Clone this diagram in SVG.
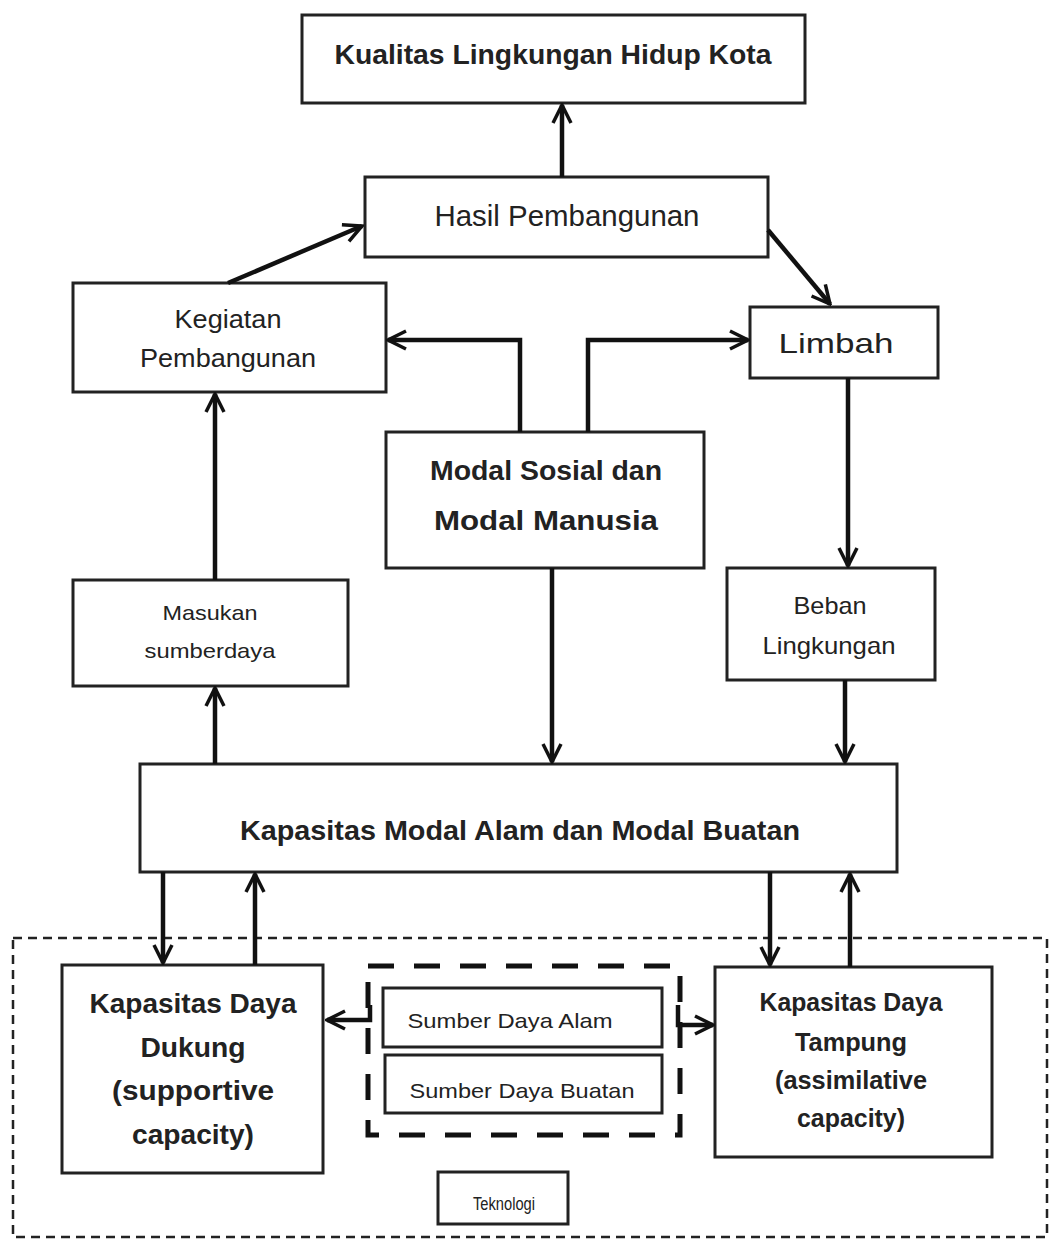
<svg xmlns="http://www.w3.org/2000/svg" width="1051" height="1241" viewBox="0 0 1051 1241">
<defs>
<marker id="ah" markerUnits="userSpaceOnUse" markerWidth="24" markerHeight="24" viewBox="0 0 24 24" refX="22" refY="12" orient="auto">
<path d="M4,3 L22,12 L4,21" fill="none" stroke="#111" stroke-width="3.5" stroke-linejoin="miter"/>
</marker>
</defs>
<style>
.box{fill:#fff;stroke:#222;stroke-width:3}
.t{font-family:"Liberation Sans","DejaVu Sans",sans-serif;fill:#222;text-anchor:middle}
.b{font-weight:bold}
.c{fill:none;stroke:#111;stroke-width:4.5;marker-end:url(#ah)}
</style>
<rect width="1051" height="1241" fill="#fff"/>

<g id="group-outer">
<rect x="13" y="938" width="1034" height="299" fill="none" stroke="#222" stroke-width="2.5" stroke-dasharray="9,6"/>
</g>

<g id="kualitas">
<rect class="box" x="302" y="15" width="503" height="88"/>
<text class="t b" x="553" y="64" font-size="27" textLength="437" lengthAdjust="spacingAndGlyphs">Kualitas Lingkungan Hidup Kota</text>
</g>

<g id="hasil">
<rect class="box" x="365" y="177" width="403" height="80"/>
<text class="t" x="567" y="226" font-size="30" textLength="265" lengthAdjust="spacingAndGlyphs">Hasil Pembangunan</text>
</g>

<g id="kegiatan">
<rect class="box" x="73" y="283" width="313" height="109"/>
<text class="t" x="228" y="328" font-size="25" textLength="107" lengthAdjust="spacingAndGlyphs">Kegiatan</text>
<text class="t" x="228" y="367" font-size="25" textLength="176" lengthAdjust="spacingAndGlyphs">Pembangunan</text>
</g>

<g id="limbah">
<rect class="box" x="750" y="307" width="188" height="71"/>
<text class="t" x="836" y="353" font-size="28" textLength="115" lengthAdjust="spacingAndGlyphs">Limbah</text>
</g>

<g id="modal-sosial">
<rect class="box" x="386" y="432" width="318" height="136"/>
<text class="t b" x="546" y="480" font-size="28" textLength="232" lengthAdjust="spacingAndGlyphs">Modal Sosial dan</text>
<text class="t b" x="546" y="530" font-size="28" textLength="224" lengthAdjust="spacingAndGlyphs">Modal Manusia</text>
</g>

<g id="masukan">
<rect class="box" x="73" y="580" width="275" height="106"/>
<text class="t" x="210" y="620" font-size="21" textLength="95" lengthAdjust="spacingAndGlyphs">Masukan</text>
<text class="t" x="210" y="658" font-size="21" textLength="131" lengthAdjust="spacingAndGlyphs">sumberdaya</text>
</g>

<g id="beban">
<rect class="box" x="727" y="568" width="208" height="112"/>
<text class="t" x="830" y="614" font-size="24" textLength="73" lengthAdjust="spacingAndGlyphs">Beban</text>
<text class="t" x="829" y="654" font-size="24" textLength="133" lengthAdjust="spacingAndGlyphs">Lingkungan</text>
</g>

<g id="kapasitas-modal">
<rect class="box" x="140" y="764" width="757" height="108"/>
<text class="t b" x="520" y="840" font-size="28" textLength="560" lengthAdjust="spacingAndGlyphs">Kapasitas Modal Alam dan Modal Buatan</text>
</g>

<g id="daya-dukung">
<rect class="box" x="62" y="965" width="261" height="208"/>
<text class="t b" x="193" y="1013" font-size="28" textLength="207" lengthAdjust="spacingAndGlyphs">Kapasitas Daya</text>
<text class="t b" x="193" y="1057" font-size="28" textLength="105" lengthAdjust="spacingAndGlyphs">Dukung</text>
<text class="t b" x="193" y="1100" font-size="28" textLength="162" lengthAdjust="spacingAndGlyphs">(supportive</text>
<text class="t b" x="193" y="1144" font-size="28" textLength="122" lengthAdjust="spacingAndGlyphs">capacity)</text>
</g>

<g id="daya-tampung">
<rect class="box" x="715" y="967" width="277" height="190"/>
<text class="t b" x="851" y="1011" font-size="25" textLength="183" lengthAdjust="spacingAndGlyphs">Kapasitas Daya</text>
<text class="t b" x="851" y="1051" font-size="25" textLength="112" lengthAdjust="spacingAndGlyphs">Tampung</text>
<text class="t b" x="851" y="1089" font-size="25" textLength="152" lengthAdjust="spacingAndGlyphs">(assimilative</text>
<text class="t b" x="851" y="1127" font-size="25" textLength="108" lengthAdjust="spacingAndGlyphs">capacity)</text>
</g>

<g id="sumber-daya">
<rect x="368" y="966" width="312" height="169" fill="none" stroke="#111" stroke-width="5" stroke-dasharray="26,20"/>
</g>

<g id="sumber-daya-alam">
<rect class="box" x="383" y="988" width="279" height="59" stroke-width="2.5"/>
<text class="t" x="510" y="1028" font-size="21" textLength="205" lengthAdjust="spacingAndGlyphs">Sumber Daya Alam</text>
</g>

<g id="sumber-daya-buatan">
<rect class="box" x="385" y="1055" width="277" height="58" stroke-width="2.5"/>
<text class="t" x="522" y="1098" font-size="21" textLength="225" lengthAdjust="spacingAndGlyphs">Sumber Daya Buatan</text>
</g>

<g id="teknologi">
<rect class="box" x="438" y="1172" width="130" height="52" stroke-width="2.5"/>
<text class="t" x="504" y="1210" font-size="18" textLength="62" lengthAdjust="spacingAndGlyphs">Teknologi</text>
</g>

<g id="connectors">
<line class="c" x1="562" y1="177" x2="562" y2="105"/>
<line class="c" x1="228" y1="283" x2="362" y2="226"/>
<line class="c" x1="768" y1="230" x2="830" y2="304"/>
<polyline class="c" points="520,432 520,340 388,340"/>
<polyline class="c" points="588,432 588,340 748,340"/>
<line class="c" x1="215" y1="580" x2="215" y2="394"/>
<line class="c" x1="848" y1="378" x2="848" y2="566"/>
<line class="c" x1="552" y1="568" x2="552" y2="762"/>
<line class="c" x1="845" y1="680" x2="845" y2="762"/>
<line class="c" x1="215" y1="764" x2="215" y2="688"/>
<line class="c" x1="163" y1="872" x2="163" y2="963"/>
<line class="c" x1="255" y1="965" x2="255" y2="874"/>
<line class="c" x1="770" y1="872" x2="770" y2="965"/>
<line class="c" x1="850" y1="967" x2="850" y2="874"/>
<polyline class="c" points="370,1005 370,1020 327,1020"/>
<polyline class="c" points="678,1005 678,1025 713,1025"/>
</g>
</svg>
